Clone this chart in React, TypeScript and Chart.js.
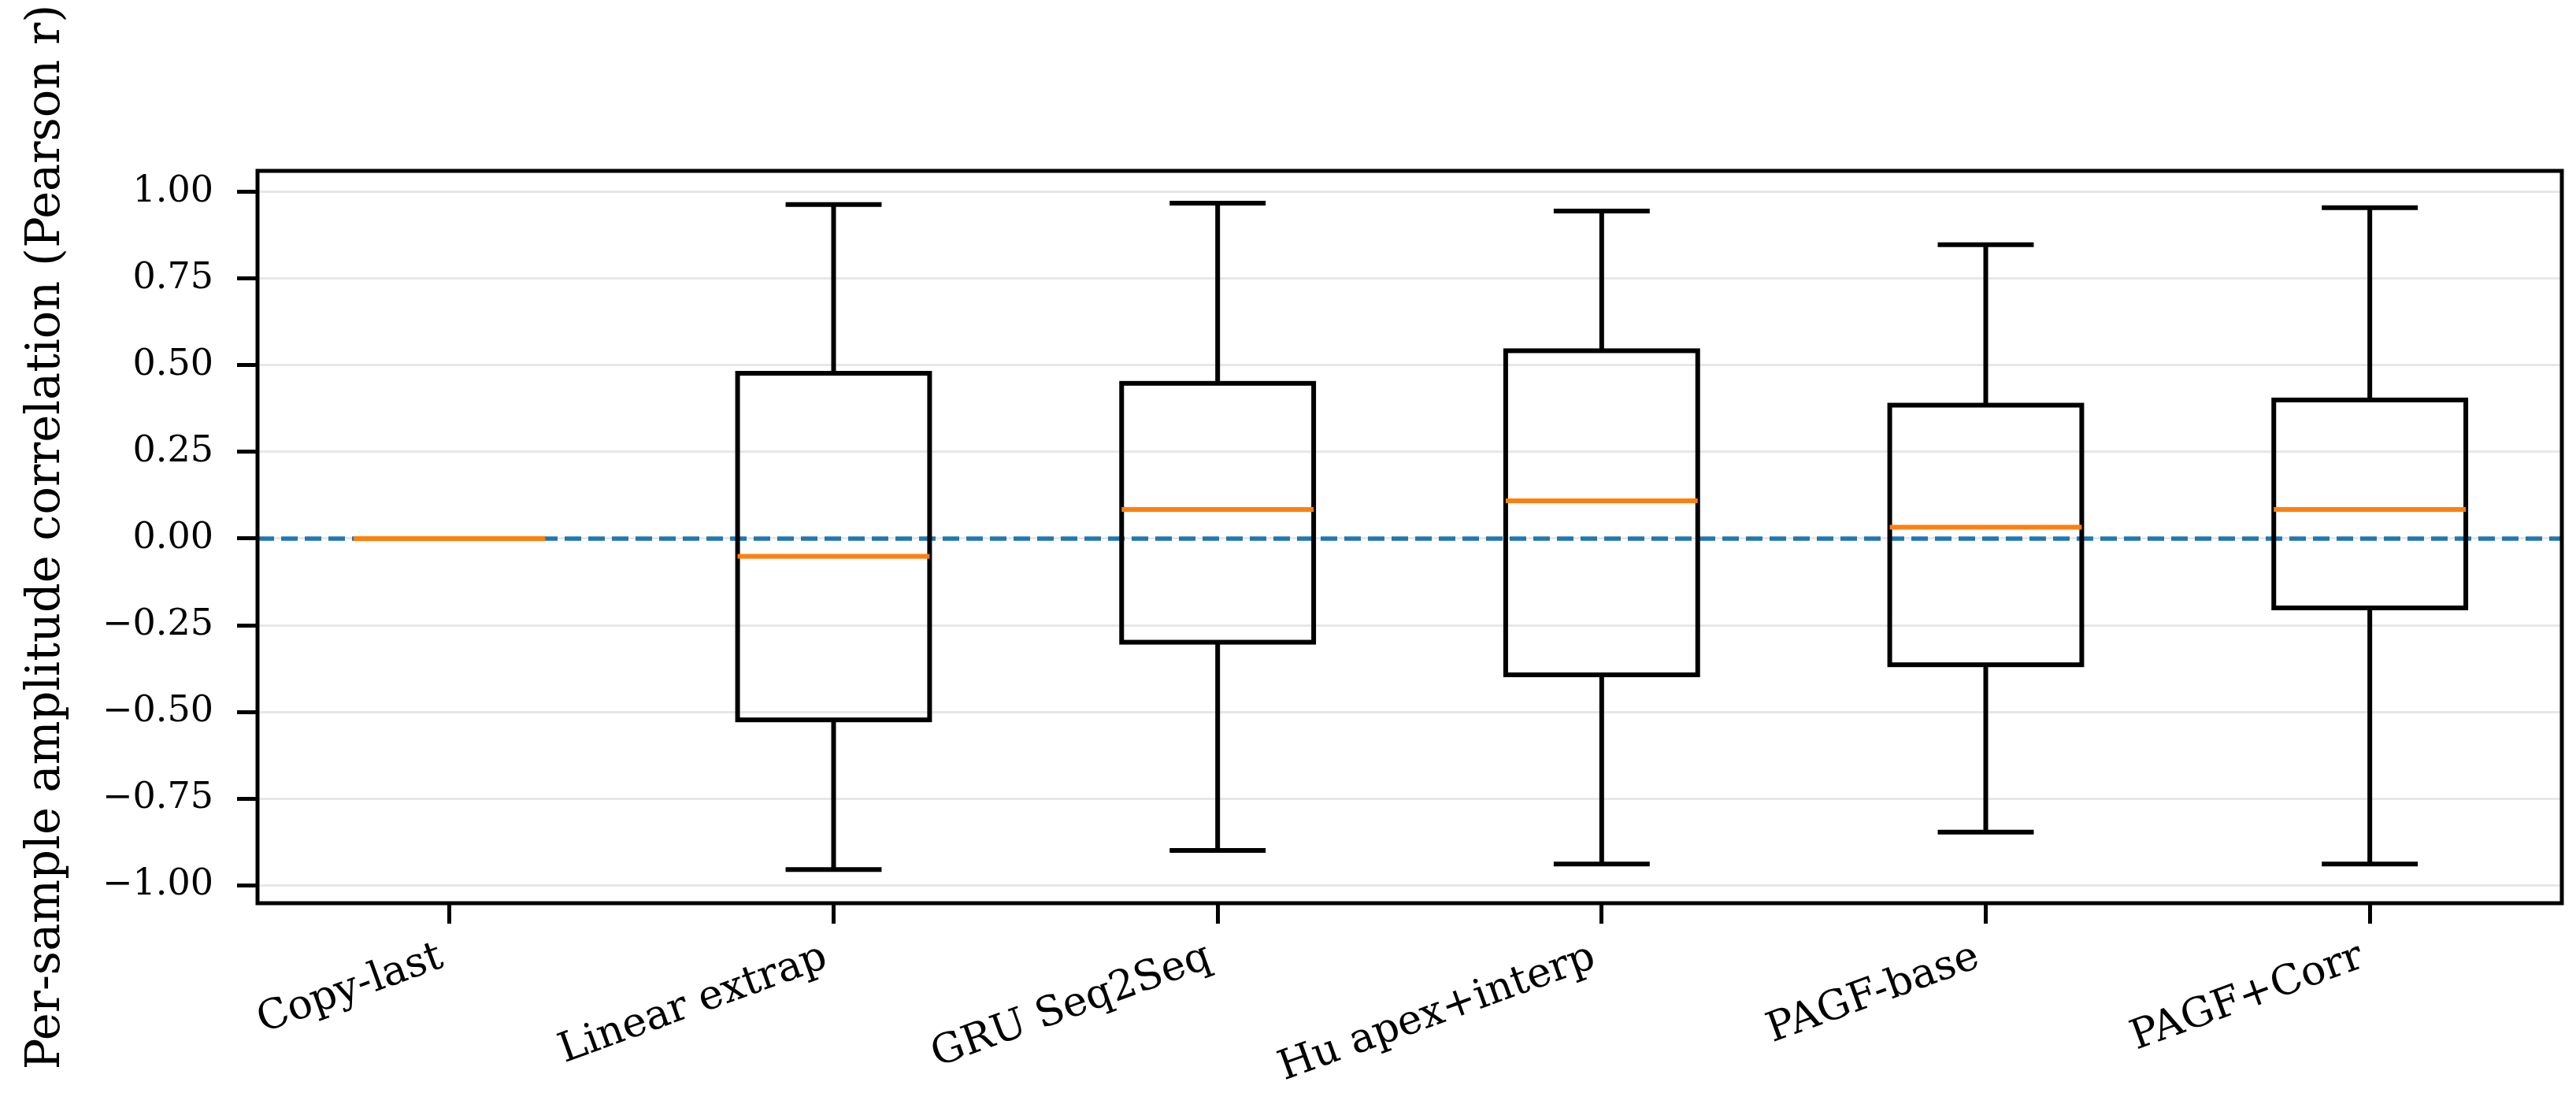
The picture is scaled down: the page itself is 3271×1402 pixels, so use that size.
import React, { useEffect, useRef } from 'react';
import { Chart, registerables } from 'chart.js';

Chart.register(...registerables);

// ---- Data ----
const CATEGORIES = ['Copy-last', 'Linear extrap', 'GRU Seq2Seq', 'Hu apex+interp', 'PAGF-base', 'PAGF+Corr'];
const WHISKER_LOW = [0, -0.955, -0.9, -0.939, -0.847, -0.939];
const Q1 = [0, -0.523, -0.299, -0.393, -0.364, -0.2];
const MEDIAN = [0, -0.051, 0.084, 0.109, 0.033, 0.084];
const Q3 = [0, 0.477, 0.448, 0.542, 0.385, 0.4];
const WHISKER_HIGH = [0, 0.964, 0.968, 0.945, 0.848, 0.955];
const Y_TICKS = [-1, -0.75, -0.5, -0.25, 0, 0.25, 0.5, 0.75, 1];
const Y_MIN = -1.052;
const Y_MAX = 1.061;
const REFERENCE_LINE = 0;
const Y_TITLE = 'Per-sample amplitude correlation (Pearson r)';

const FONT = "'DejaVu Serif', serif";

const fmt = (v: number) => {
  if (Math.abs(v) < 1e-9) return '0.00';
  return (v < 0 ? '\u2212' : '') + Math.abs(v).toFixed(2);
};

const boxPlugin = {
  id: 'boxDraw',
  beforeDatasetsDraw(chart: any) {
    const { ctx, chartArea, scales } = chart;
    const py = scales.y.getPixelForValue(REFERENCE_LINE);
    ctx.save();
    ctx.beginPath();
    ctx.rect(chartArea.left, chartArea.top, chartArea.right - chartArea.left, chartArea.bottom - chartArea.top);
    ctx.clip();
    ctx.strokeStyle = '#1f77b4';
    ctx.lineWidth = 5.5;
    ctx.setLineDash([21, 9]);
    ctx.beginPath();
    ctx.moveTo(chartArea.left, py);
    ctx.lineTo(chartArea.right, py);
    ctx.stroke();
    ctx.restore();
  },
  afterDatasetsDraw(chart: any) {
    const { ctx, scales } = chart;
    const y = scales.y;
    const meta = chart.getDatasetMeta(0);
    const line = (x1: number, y1: number, x2: number, y2: number) => {
      ctx.beginPath();
      ctx.moveTo(x1, y1);
      ctx.lineTo(x2, y2);
      ctx.stroke();
    };
    ctx.save();
    ctx.lineWidth = 6;
    ctx.strokeStyle = '#000';
    ctx.lineCap = 'butt';
    ctx.lineJoin = 'miter';
    meta.data.forEach((bar: any, i: number) => {
      const cx = bar.x;
      const hw = bar.width / 2;
      const capHw = hw / 2;
      const yq1 = y.getPixelForValue(Q1[i]);
      const yq3 = y.getPixelForValue(Q3[i]);
      const ylo = y.getPixelForValue(WHISKER_LOW[i]);
      const yhi = y.getPixelForValue(WHISKER_HIGH[i]);
      ctx.strokeRect(cx - hw, yq3, 2 * hw, yq1 - yq3);
      line(cx, yq1, cx, ylo);
      line(cx, yq3, cx, yhi);
      line(cx - capHw, ylo, cx + capHw, ylo);
      line(cx - capHw, yhi, cx + capHw, yhi);
    });
    ctx.strokeStyle = '#ff7f0e';
    meta.data.forEach((bar: any, i: number) => {
      const cx = bar.x;
      const hw = bar.width / 2;
      const ym = y.getPixelForValue(MEDIAN[i]);
      line(cx - hw, ym, cx + hw, ym);
    });
    ctx.restore();
  },
  afterDraw(chart: any) {
    const { ctx, chartArea } = chart;
    ctx.save();
    ctx.strokeStyle = '#000';
    ctx.lineWidth = 5;
    ctx.strokeRect(chartArea.left, chartArea.top, chartArea.right - chartArea.left, chartArea.bottom - chartArea.top);
    ctx.restore();
  },
};

export default function App() {
  const ref = useRef<HTMLCanvasElement>(null);
  useEffect(() => {
    if (!ref.current) return;
    const chart = new Chart(ref.current, {
      type: 'bar',
      data: {
        labels: CATEGORIES,
        datasets: [
          {
            data: CATEGORIES.map((_, i) => [Q1[i], Q3[i]]) as any,
            backgroundColor: 'rgba(0,0,0,0)',
            borderWidth: 0,
            barPercentage: 0.5,
            categoryPercentage: 1,
          },
        ],
      },
      options: {
        responsive: false,
        animation: false,
        devicePixelRatio: 1,
        layout: { padding: { top: 217, right: 18, bottom: 0, left: 0 } },
        plugins: { legend: { display: false }, tooltip: { enabled: false } },
        scales: {
          x: {
            type: 'category',
            offset: true,
            grid: {
              display: true,
              drawOnChartArea: false,
              drawTicks: true,
              tickLength: 26,
              tickWidth: 5,
              tickColor: '#000',
              offset: false,
            },
            border: { display: false },
            ticks: {
              autoSkip: false,
              minRotation: 20,
              maxRotation: 20,
              padding: 12,
              labelOffset: -10,
              color: '#000',
              font: { family: FONT, size: 52 },
            },
            afterFit: (s: any) => {
              s.height = 255;
            },
          },
          y: {
            type: 'linear',
            min: Y_MIN,
            max: Y_MAX,
            afterBuildTicks: (s: any) => {
              s.ticks = Y_TICKS.map((v) => ({ value: v }));
            },
            grid: {
              color: '#e7e7e7',
              lineWidth: 3,
              tickLength: 26,
              tickWidth: 5,
              tickColor: '#000',
            },
            border: { display: false },
            ticks: {
              padding: 30,
              color: '#000',
              font: { family: FONT, size: 46 },
              callback: (v: any) => fmt(Number(v)),
            },
            title: {
              display: true,
              text: Y_TITLE,
              color: '#000',
              font: { family: FONT, size: 59 },
              padding: { top: 24, bottom: 0 },
            },
            afterFit: (s: any) => {
              s.width = 327;
            },
          },
        },
      } as any,
      plugins: [boxPlugin],
    });
    return () => chart.destroy();
  }, []);

  return (
    <div style={{ position: 'absolute', left: 0, top: 0, width: 3271, height: 1402, background: '#fff' }}>
      <canvas ref={ref} width={3271} height={1402} style={{ display: 'block' }} />
    </div>
  );
}
